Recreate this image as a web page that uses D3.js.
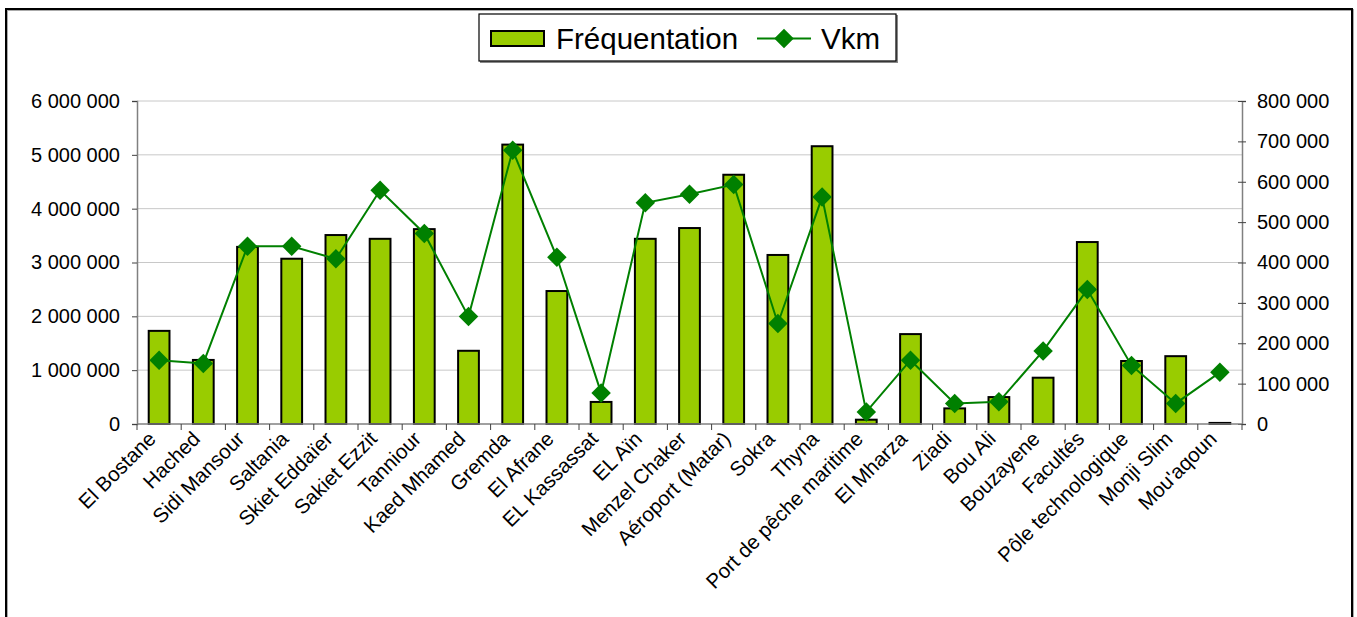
<!DOCTYPE html>
<html><head><meta charset="utf-8">
<script src="https://cdn.jsdelivr.net/npm/d3@7"></script>
<style>
html,body{margin:0;padding:0;background:#fff;}
svg{display:block;font-family:"Liberation Sans",Arial,sans-serif;}
</style></head>
<body><svg id="c" width="1357" height="617"></svg>
<script>
const categories = ["El Bostane","Hached","Sidi Mansour","Saltania","Skiet Eddaïer","Sakiet Ezzit","Tanniour","Kaed Mhamed","Gremda","El Afrane","EL Kassassat","EL Aïn","Menzel Chaker","Aéroport (Matar)","Sokra","Thyna","Port de pêche maritime","El Mharza","Ziadi","Bou Ali","Bouzayene","Facultés","Pôle technologique","Monji Slim","Mou'aqoun"];
const frequentation = [1730000,1190000,3290000,3070000,3510000,3440000,3620000,1360000,5190000,2470000,410000,3440000,3640000,4630000,3140000,5160000,80000,1670000,290000,500000,860000,3380000,1170000,1260000,20000];
const vkm = [158000,150000,440000,440000,409000,579000,472000,266000,678000,413000,77000,548000,569000,593000,249000,562000,30000,158000,51000,55000,181000,333000,145000,51000,128000];
const leftTicks = [0,1000000,2000000,3000000,4000000,5000000,6000000];
const rightTicks = [0,100000,200000,300000,400000,500000,600000,700000,800000];
const seriesNames = ["Fréquentation","Vkm"];

const svg = d3.select("#c");
const M = {l:137, r:1242, t:101, b:424};
const fmt = v => d3.format(",")(v).replace(/,/g," ");

// outer frame
svg.append("rect").attr("x",7).attr("y",10).attr("width",1346).attr("height",640)
  .attr("fill","none").attr("stroke","#aaa").attr("stroke-width",2);
svg.append("rect").attr("x",6).attr("y",9).attr("width",1346).attr("height",640)
  .attr("fill","none").attr("stroke","#000").attr("stroke-width",2);

const x = d3.scaleBand().domain(categories).range([M.l, M.r]).paddingInner(0.53).paddingOuter(0.265);
const yL = d3.scaleLinear().domain([0,6000000]).range([M.b, M.t]);
const yR = d3.scaleLinear().domain([0,800000]).range([M.b, M.t]);

// gridlines
svg.append("g").selectAll("line").data(leftTicks.filter(d=>d>0)).join("line")
  .attr("x1",M.l).attr("x2",M.r).attr("y1",d=>yL(d)).attr("y2",d=>yL(d))
  .attr("stroke","#c8c8c8").attr("stroke-width",1);

// bars
svg.append("g").selectAll("rect").data(frequentation).join("rect")
  .attr("x",(d,i)=>x(categories[i])).attr("width",x.bandwidth())
  .attr("y",d=>yL(d)).attr("height",d=>M.b-yL(d))
  .attr("fill","#99CC00").attr("stroke","#000").attr("stroke-width",2);

// left axis
const gL = svg.append("g").attr("transform",`translate(${M.l},0)`)
  .call(d3.axisLeft(yL).tickValues(leftTicks).tickSize(5).tickPadding(12).tickFormat(fmt));
gL.select(".domain").attr("stroke","#808080").attr("stroke-width",1.5);
gL.selectAll(".tick line").attr("stroke","#404040");
gL.selectAll("text").attr("font-size",20).attr("fill","#000").attr("font-family","Liberation Sans, Arial, sans-serif");

// right axis
const gR = svg.append("g").attr("transform",`translate(${M.r},0)`)
  .call(d3.axisRight(yR).tickValues(rightTicks).tickSize(4).tickPadding(11).tickFormat(fmt));
gR.select(".domain").attr("stroke","#808080").attr("stroke-width",1.5);
gR.selectAll(".tick line").attr("stroke","#404040").attr("x1",-4);
gR.selectAll("text").attr("font-size",20).attr("fill","#000").attr("font-family","Liberation Sans, Arial, sans-serif");

// x axis
const bottom = svg.append("g");
bottom.append("line").attr("x1",M.l).attr("x2",M.r).attr("y1",M.b).attr("y2",M.b)
  .attr("stroke","#808080").attr("stroke-width",1.5);
bottom.selectAll("line.t").data(d3.range(categories.length+1)).join("line").attr("class","t")
  .attr("x1",i=>M.l + i*(M.r-M.l)/categories.length).attr("x2",i=>M.l + i*(M.r-M.l)/categories.length)
  .attr("y1",M.b).attr("y2",M.b+6).attr("stroke","#404040");
bottom.selectAll("text").data(categories).join("text")
  .attr("transform",d=>`translate(${x(d)+x.bandwidth()/2-7},${M.b+11}) rotate(-45)`)
  .attr("text-anchor","end").attr("dy","0.35em").attr("font-size",20.5).attr("fill","#000")
  .text(d=>d);

// line
const line = d3.line().x((d,i)=>x(categories[i])+x.bandwidth()/2).y(d=>yR(d));
svg.append("path").datum(vkm).attr("d",line).attr("fill","none").attr("stroke","#008000").attr("stroke-width",2);
svg.append("g").selectAll("path").data(vkm).join("path")
  .attr("transform",(d,i)=>`translate(${x(categories[i])+x.bandwidth()/2},${yR(d)}) rotate(45)`)
  .attr("d",d3.symbol().type(d3.symbolSquare).size(190)).attr("fill","#008000");

// legend
const lg = svg.append("g");
lg.append("rect").attr("x",480).attr("y",15).attr("width",418).attr("height",48).attr("fill","#888");
lg.append("rect").attr("x",479).attr("y",14).attr("width",417).attr("height",47)
  .attr("fill","#fff").attr("stroke","#000").attr("stroke-width",1.2);
lg.append("rect").attr("x",491).attr("y",31).attr("width",53).attr("height",15)
  .attr("fill","#99CC00").attr("stroke","#000").attr("stroke-width",2);
lg.append("text").attr("x",556).attr("y",49).attr("font-size",29.5).attr("fill","#000").text(seriesNames[0]);
lg.append("line").attr("x1",757).attr("x2",811).attr("y1",38.5).attr("y2",38.5).attr("stroke","#008000").attr("stroke-width",2);
lg.append("path").attr("transform","translate(784,38.5) rotate(45)")
  .attr("d",d3.symbol().type(d3.symbolSquare).size(190)).attr("fill","#008000");
lg.append("text").attr("x",821).attr("y",49).attr("font-size",29.5).attr("fill","#000").text(seriesNames[1]);
</script></body></html>
